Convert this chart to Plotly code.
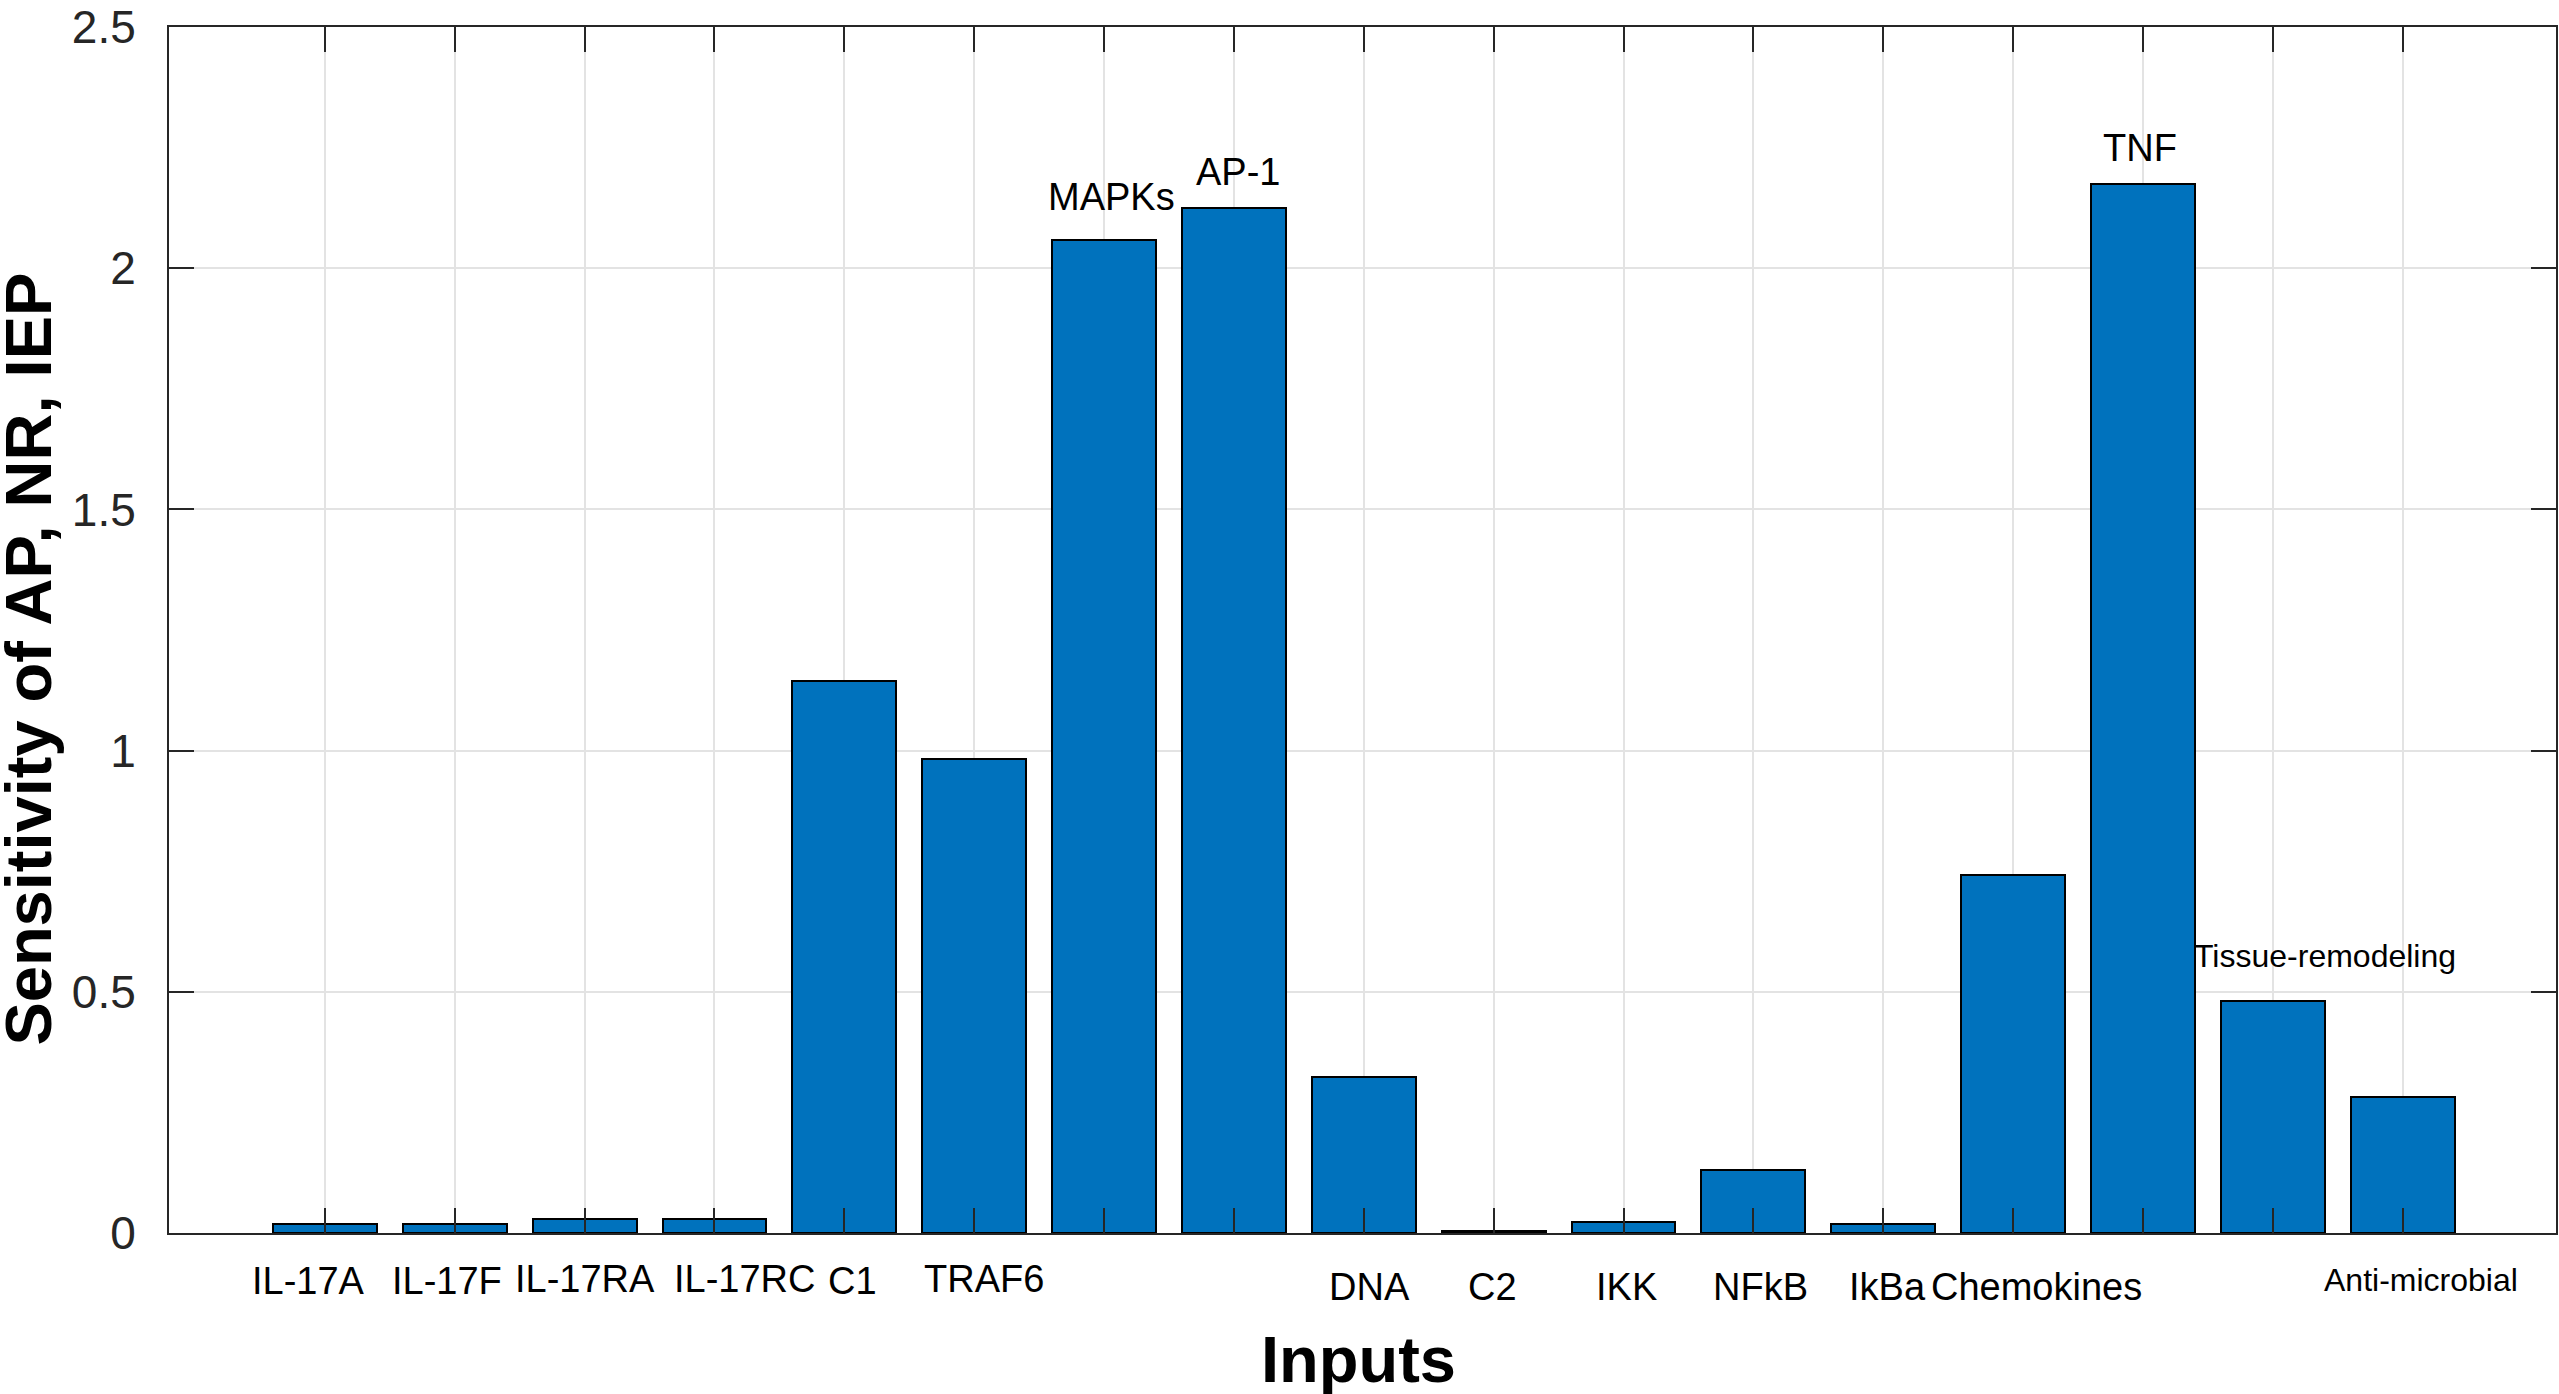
import plotly.graph_objects as go

# bar data
bar_pos = list(range(1, 18))
sensitivity = [0.019, 0.019, 0.030, 0.030, 1.145, 0.982, 2.059, 2.124, 0.324,
               0.005, 0.022, 0.130, 0.019, 0.742, 2.174, 0.481, 0.282]

# text labels (MATLAB text() calls, left aligned, data units)
label_text = ["IL-17A", "IL-17F", "IL-17RA", "IL-17RC", "C1", "TRAF6", "MAPKs", "AP-1",
              "DNA", "C2", "IKK", "NFkB", "IkBa", "Chemokines", "TNF",
              "Tissue-remodeling", "Anti-microbial"]
label_x = [0.42, 1.50, 2.45, 3.67, 4.86, 5.60, 6.55, 7.69,
           8.72, 9.79, 10.77, 11.67, 12.72, 13.35, 14.68, 15.38, 16.38]
label_y = [-0.099, -0.099, -0.095, -0.095, -0.099, -0.095, 2.148, 2.200,
           -0.111, -0.111, -0.111, -0.111, -0.111, -0.111, 2.250, 0.575, -0.098]
label_size = [38] * 15 + [32, 32]

Y_MAX = 2.5
FONT = "Liberation Sans, Arial, Helvetica, sans-serif"
AX = "#262626"
GRID = "#e3e3e3"

fig = go.Figure(
    go.Bar(
        x=bar_pos,
        y=sensitivity,
        width=0.8,
        marker=dict(color="#0072BD", line=dict(color="#000000", width=2)),
        showlegend=False,
    )
)

# labels below the axis would be dropped with yref="y", so map them to paper units
for t, x, y, s in zip(label_text, label_x, label_y, label_size):
    fig.add_annotation(
        x=x, y=y / Y_MAX, xref="x", yref="paper", text=t, showarrow=False,
        xanchor="left", yanchor="middle",
        font=dict(family=FONT, size=s, color="#000000"),
    )

fig.add_annotation(
    x=0.4985, y=-0.105, xref="paper", yref="paper", text="<b>Inputs</b>",
    showarrow=False, xanchor="center", yanchor="middle",
    font=dict(family=FONT, size=65, color="#000000"),
)
fig.add_annotation(
    x=-0.059, y=0.4756, xref="paper", yref="paper", text="<b>Sensitivity of AP, NR, IEP</b>",
    showarrow=False, xanchor="center", yanchor="middle", textangle=-90,
    font=dict(family=FONT, size=65, color="#000000"),
)

fig.update_xaxes(
    range=[-0.2, 18.18],
    tickvals=bar_pos,
    showticklabels=False,
    ticks="inside", ticklen=25, tickwidth=2, tickcolor=AX,
    showline=True, linecolor=AX, linewidth=2, mirror="ticks",
    showgrid=True, gridcolor=GRID, gridwidth=1.5,
    zeroline=False,
)
fig.update_yaxes(
    range=[0, Y_MAX],
    tickvals=[0, 0.5, 1, 1.5, 2, 2.5],
    ticktext=["0", "0.5", "1", "1.5", "2", "2.5"],
    ticks="inside", ticklen=25, tickwidth=2, tickcolor=AX,
    ticklabelstandoff=22,
    ticklabeloverflow="allow",
    tickfont=dict(family=FONT, size=46, color=AX),
    showline=True, linecolor=AX, linewidth=2, mirror="ticks",
    showgrid=True, gridcolor=GRID, gridwidth=1.5,
    zeroline=False,
)
fig.update_layout(
    width=2559,
    height=1394,
    margin=dict(l=169, r=1, t=23, b=161),
    plot_bgcolor="white",
    paper_bgcolor="white",
    bargap=0,
    font=dict(family=FONT),
)

fig.write_html(
    "out.html",
    config={"displayModeBar": False},
    post_script="document.body.style.margin='0';",
)
